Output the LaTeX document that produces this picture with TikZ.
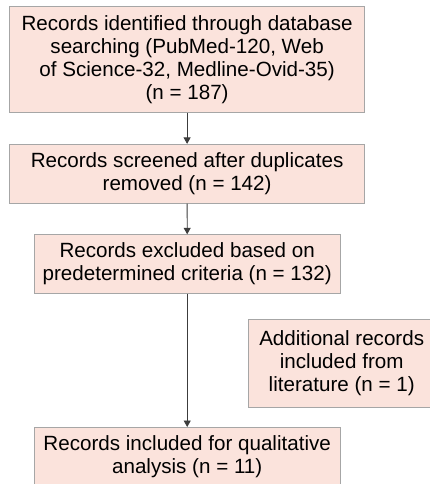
\documentclass[tikz,border=0pt]{standalone}
\usepackage{fontspec}
\setmainfont{Liberation Sans}
\usetikzlibrary{arrows.meta}
\definecolor{boxfill}{HTML}{FBE3DC}
\definecolor{boxline}{HTML}{A6A6A6}
\definecolor{arrowc}{HTML}{3C3C3C}
\tikzset{
  box/.style={draw=boxline, fill=boxfill, line width=0.8pt, align=center, inner sep=0pt,
    font=\fontsize{20.6}{23}\selectfont, anchor=center},
  flow/.style={draw=arrowc, line width=0.8pt, -{Triangle[length=6.5pt,width=7pt]}}
}
\begin{document}
\begin{tikzpicture}[x=1pt,y=-1pt]
\useasboundingbox (0,0) rectangle (430,484);
\clip (0,0) rectangle (430,484);
\fill[white] (0,0) rectangle (430,484);
\node[box, minimum width=355.2pt, minimum height=105.6pt] (b1) at (187.1,59.5)
  {Records identified through database\\searching (PubMed-120, Web\\of Science-32, Medline-Ovid-35)\\(n = 187)};
\node[box, minimum width=355.2pt, minimum height=59pt] (b2) at (187.1,173.8)
  {Records screened after duplicates\\removed (n = 142)};
\node[box, minimum width=306.3pt, minimum height=58.6pt] (b3) at (187.2,264)
  {Records excluded based on\\predetermined criteria (n = 132)};
\node[box, minimum width=186.7pt, minimum height=88.2pt] (b4) at (341.7,363.4)
  {Additional records\\included from\\literature (n = 1)};
\node[box, minimum width=306.3pt, minimum height=58.6pt] (b5) at (187.2,456.7)
  {Records included for qualitative\\analysis (n = 11)};
\draw[flow] (b1.south) -- (b2.north);
\draw[flow] (b2.south) -- (b3.north);
\draw[flow] (b3.south) -- (b5.north);
\end{tikzpicture}
\end{document}
